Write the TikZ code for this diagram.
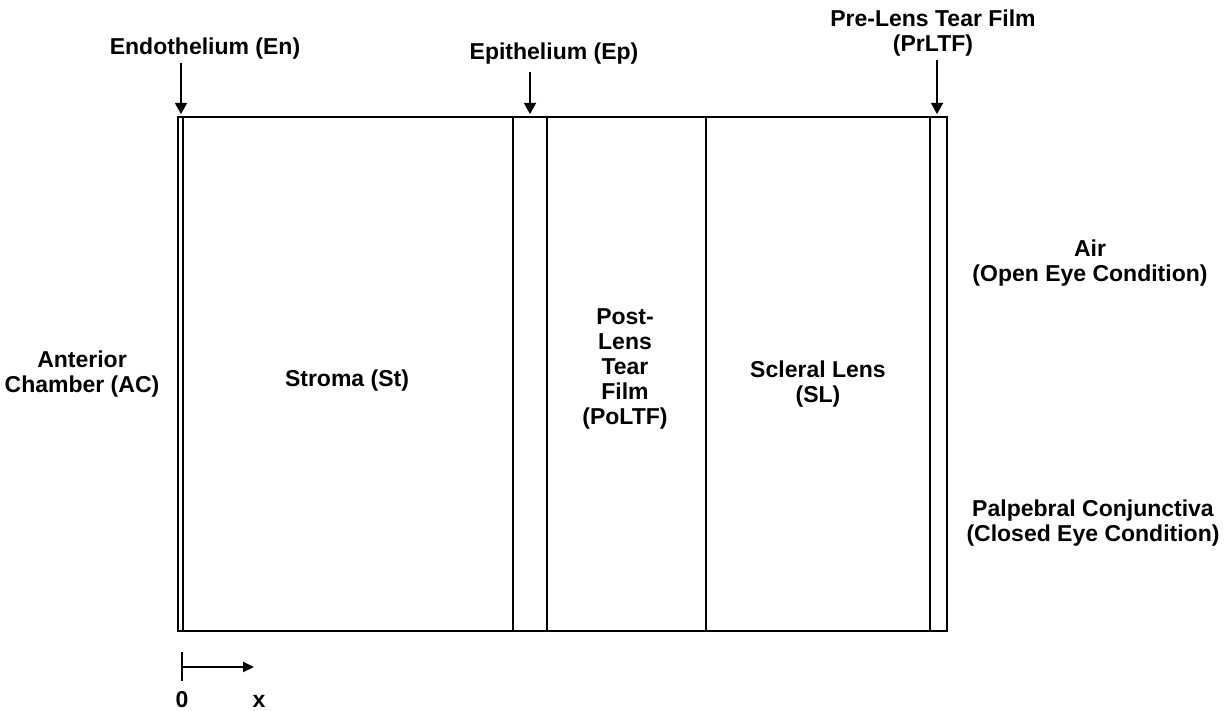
\documentclass[tikz,border=0pt]{standalone}
\usepackage{fontspec}
\setmainfont{Liberation Sans}
\usetikzlibrary{arrows.meta}
\begin{document}
\begin{tikzpicture}[x=1pt,y=-1pt,
  lbl/.style={font=\bfseries\fontsize{23}{25}\selectfont, align=center, inner sep=0pt},
  wall/.style={line width=1.8pt, line cap=rect},
  pointer/.style={line width=1.3pt, -{Triangle[length=11pt,width=12pt]}},
  axis/.style={line width=2pt, -{Triangle[length=11pt,width=10pt]}}]
\useasboundingbox (0,0) rectangle (1229,711);
% layers
\coordinate (tl) at (178,117);
\coordinate (br) at (947,631);
\draw[wall] (tl) rectangle (br);
\coordinate (enT) at (183,117); \coordinate (enB) at (183,631);
\coordinate (stT) at (513,117); \coordinate (stB) at (513,631);
\coordinate (epT) at (547,117); \coordinate (epB) at (547,631);
\coordinate (poT) at (706,117); \coordinate (poB) at (706,631);
\coordinate (slT) at (930,117); \coordinate (slB) at (930,631);
\draw[wall] (enT) -- (enB);
\draw[wall] (stT) -- (stB);
\draw[wall] (epT) -- (epB);
\draw[wall] (poT) -- (poB);
\draw[wall] (slT) -- (slB);
% top labels
\node[lbl, anchor=base] (en) at (205,55) {Endothelium (En)};
\node[lbl, anchor=base] (ep) at (554,60) {Epithelium (Ep)};
\node[lbl, anchor=north] (pr) at (933,10) {Pre-Lens Tear Film\\(PrLTF)};
\coordinate (enS) at (181,63); \coordinate (enE) at (181,114);
\coordinate (epS) at (530,72); \coordinate (epE) at (530,114);
\coordinate (prS) at (937,60); \coordinate (prE) at (937,114);
\draw[pointer] (enS) -- (enE);
\draw[pointer] (epS) -- (epE);
\draw[pointer] (prS) -- (prE);
% region labels
\node[lbl, anchor=north] (ac) at (82,351) {Anterior\\Chamber (AC)};
\node[lbl, anchor=base] (st) at (347,386) {Stroma (St)};
\node[lbl, anchor=north] (po) at (625,308) {Post-\\Lens\\Tear\\Film\\(PoLTF)};
\node[lbl, anchor=north] (sl) at (818,361) {Scleral Lens\\(SL)};
\node[lbl, anchor=north] (air) at (1090,240) {Air\\(Open Eye Condition)};
\node[lbl, anchor=north] (pc) at (1093,500) {Palpebral Conjunctiva\\(Closed Eye Condition)};
% axis
\coordinate (o) at (182,667);
\coordinate (tickA) at (182,652); \coordinate (tickB) at (182,681);
\coordinate (xe) at (254,667);
\draw[line width=2.5pt] (tickA) -- (tickB);
\draw[axis] (o) -- (xe);
\node[lbl, anchor=base] (zero) at (182,707) {0};
\node[lbl, anchor=base] (xl) at (259,707) {x};
\end{tikzpicture}
\end{document}
